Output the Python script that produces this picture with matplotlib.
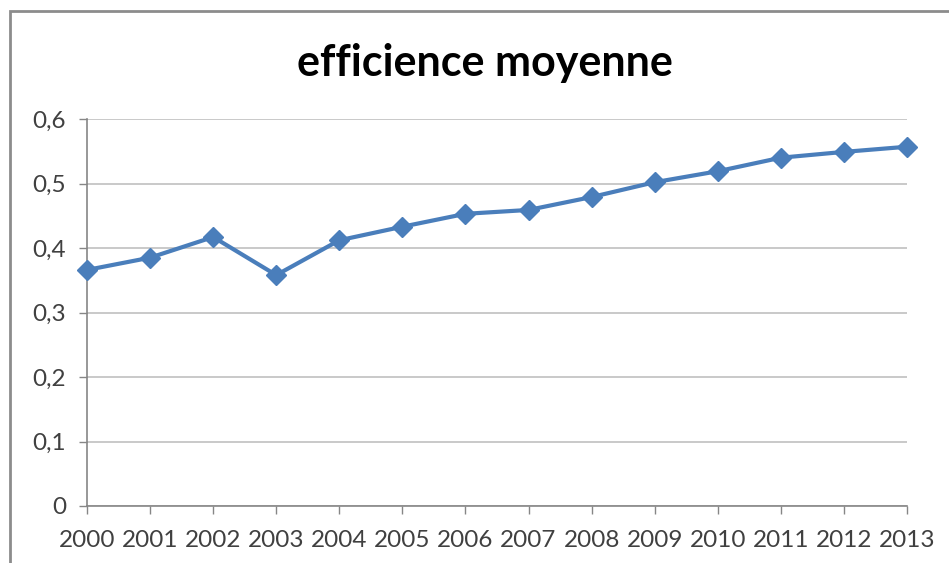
import matplotlib.pyplot as plt
from matplotlib.patches import Rectangle
from matplotlib.ticker import FuncFormatter

years = ['2000', '2001', '2002', '2003', '2004', '2005', '2006',
         '2007', '2008', '2009', '2010', '2011', '2012', '2013']
efficience = [0.366, 0.385, 0.417, 0.358, 0.412, 0.433, 0.453,
              0.459, 0.479, 0.502, 0.519, 0.540, 0.549, 0.557]
yticks = [0, 0.1, 0.2, 0.3, 0.4, 0.5, 0.6]

plt.rcParams['font.family'] = ['Lato', 'DejaVu Sans']

W, H = 949, 563
fig = plt.figure(figsize=(W / 100, H / 100), dpi=100)
fig.patch.set_facecolor('white')

# chart frame (cropped at right/bottom in the original)
fig.patches.append(Rectangle((10 / W, -0.05), 1.1, 1.05 - 11 / H,
                             transform=fig.transFigure, fill=False,
                             edgecolor='#8c8c8c', lw=2))

ax = fig.add_axes([87 / W, 1 - 506 / H, (907 - 87) / W, (506 - 119) / H])
x = list(range(len(years)))
ax.plot(x, efficience, color='#4a7ebb', lw=3, marker='D', ms=10,
        markerfacecolor='#4a7ebb', markeredgecolor='#4a7ebb', zorder=3,
        clip_on=False)

ax.set_xlim(0, len(years) - 1)
ax.set_ylim(0, 0.6)
ax.set_xticks(x)
ax.set_xticklabels(years)
ax.set_yticks(yticks)
ax.yaxis.set_major_formatter(FuncFormatter(lambda v, p: ('%g' % round(v, 1)).replace('.', ',')))
ax.tick_params(axis='both', labelsize=17.5, colors='#404040', length=6, width=1, direction='out')
ax.tick_params(axis='x', color='#868686', pad=11)
ax.tick_params(axis='y', color='#868686', pad=9)
ax.grid(axis='y', color='#c0c0c0', lw=1.2)
ax.set_axisbelow(True)
for s in ['top', 'right']:
    ax.spines[s].set_visible(False)
for s in ['left', 'bottom']:
    ax.spines[s].set_color('#868686')
    ax.spines[s].set_linewidth(1.2)

fig.text(485 / W, 1 - 63 / H, 'efficience moyenne', ha='center', va='center',
         fontsize=31, fontweight='bold', color='black')

fig.savefig('out.png', dpi=100)
